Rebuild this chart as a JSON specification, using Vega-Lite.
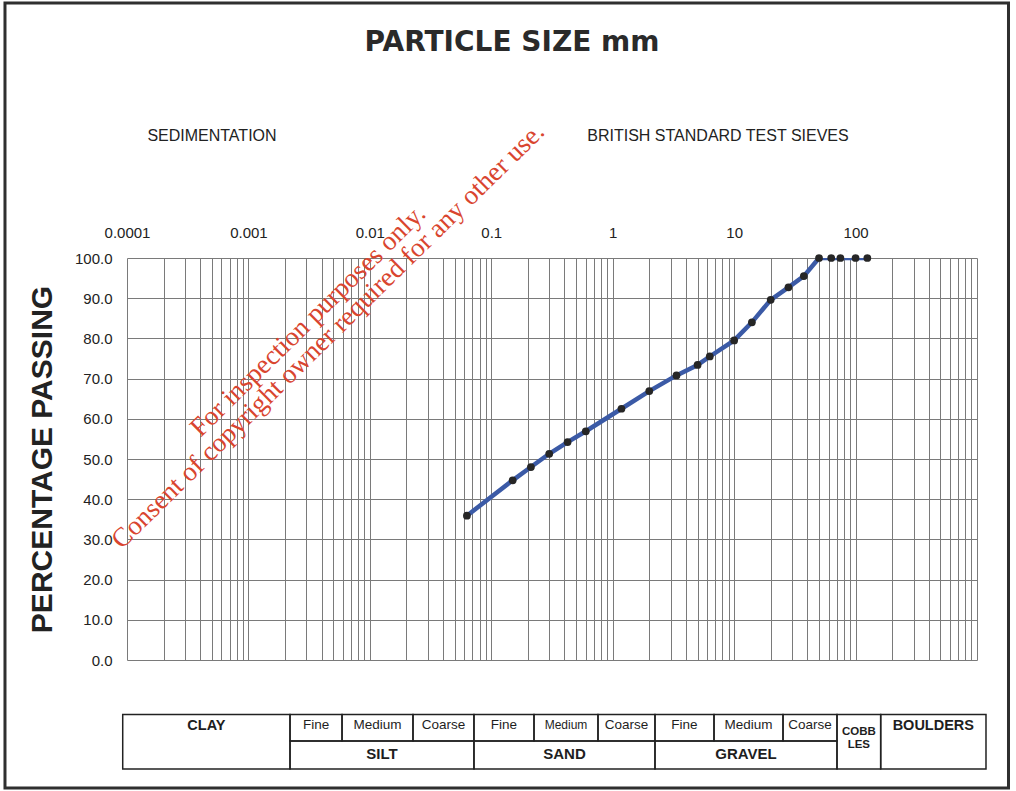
{
  "$schema": "https://vega.github.io/schema/vega-lite/v6.json",
  "width": 850,
  "height": 402,
  "autosize": {"type": "none"},
  "padding": {"left": 127, "top": 258, "right": 39, "bottom": 131},
  "background": "white",
  "title": {
    "text": "PARTICLE SIZE mm",
    "font": "DejaVu Sans",
    "fontSize": 28,
    "fontWeight": "bold",
    "color": "#2a2a2a",
    "anchor": "middle",
    "frame": "group",
    "dx": -40,
    "offset": -55
  },
  "config": {"view": {"stroke": null}, "font": "Liberation Sans"},
  "datasets": {
    "grading": [
      {"size_mm": 0.063, "passing": 35.9},
      {"size_mm": 0.15, "passing": 44.7},
      {"size_mm": 0.212, "passing": 48.0},
      {"size_mm": 0.3, "passing": 51.3},
      {"size_mm": 0.425, "passing": 54.2},
      {"size_mm": 0.6, "passing": 56.9},
      {"size_mm": 1.18, "passing": 62.5},
      {"size_mm": 2, "passing": 66.9},
      {"size_mm": 3.35, "passing": 70.8},
      {"size_mm": 5, "passing": 73.4},
      {"size_mm": 6.3, "passing": 75.5},
      {"size_mm": 10, "passing": 79.5},
      {"size_mm": 14, "passing": 84.0},
      {"size_mm": 20, "passing": 89.6},
      {"size_mm": 28, "passing": 92.7},
      {"size_mm": 37.5, "passing": 95.5},
      {"size_mm": 50, "passing": 100},
      {"size_mm": 63, "passing": 100},
      {"size_mm": 75, "passing": 100},
      {"size_mm": 100, "passing": 100},
      {"size_mm": 125, "passing": 100}
    ],
    "classes": [
      {"label": "CLAY", "group": "CLAY", "tier": "full", "from": 0.0000922, "to": 0.0022},
      {"label": "Fine", "group": "SILT", "tier": "top", "from": 0.0022, "to": 0.0059},
      {"label": "Medium", "group": "SILT", "tier": "top", "from": 0.0059, "to": 0.02266},
      {"label": "Coarse", "group": "SILT", "tier": "top", "from": 0.02266, "to": 0.072},
      {"label": "SILT", "group": "SILT", "tier": "bottom", "from": 0.0022, "to": 0.072},
      {"label": "Fine", "group": "SAND", "tier": "top", "from": 0.072, "to": 0.2248},
      {"label": "Medium", "group": "SAND", "tier": "top", "from": 0.2248, "to": 0.7563},
      {"label": "Coarse", "group": "SAND", "tier": "top", "from": 0.7563, "to": 2.229},
      {"label": "SAND", "group": "SAND", "tier": "bottom", "from": 0.072, "to": 2.229},
      {"label": "Fine", "group": "GRAVEL", "tier": "top", "from": 2.229, "to": 6.826},
      {"label": "Medium", "group": "GRAVEL", "tier": "top", "from": 6.826, "to": 25.26},
      {"label": "Coarse", "group": "GRAVEL", "tier": "top", "from": 25.26, "to": 70.31},
      {"label": "GRAVEL", "group": "GRAVEL", "tier": "bottom", "from": 2.229, "to": 70.31},
      {"label": "COBB\nLES", "group": "COBBLES", "tier": "full", "from": 70.31, "to": 161},
      {"label": "BOULDERS", "group": "BOULDERS", "tier": "full", "from": 161, "to": 1186}
    ]
  },
  "layer": [
    {
      "data": {"name": "grading"},
      "mark": {"type": "line", "color": "#3b5aa6", "strokeWidth": 4.5, "clip": true},
      "encoding": {
        "x": {
          "field": "size_mm",
          "type": "quantitative",
          "scale": {"type": "log", "domain": [0.0001, 1000], "nice": false},
          "axis": {
            "orient": "top",
            "title": null,
            "values": [0.0001, 0.0002, 0.0003, 0.0004, 0.0005, 0.0006, 0.0007, 0.0008, 0.0009,
                       0.001, 0.002, 0.003, 0.004, 0.005, 0.006, 0.007, 0.008, 0.009,
                       0.01, 0.02, 0.03, 0.04, 0.05, 0.06, 0.07, 0.08, 0.09,
                       0.1, 0.2, 0.3, 0.4, 0.5, 0.6, 0.7, 0.8, 0.9,
                       1, 2, 3, 4, 5, 6, 7, 8, 9,
                       10, 20, 30, 40, 50, 60, 70, 80, 90,
                       100, 200, 300, 400, 500, 600, 700, 800, 900, 1000],
            "format": "~g",
            "labelExpr": "indexof([0.0001, 0.001, 0.01, 0.1, 1, 10, 100], datum.value) >= 0 ? datum.label : ''",
            "grid": true,
            "gridColor": "#7a7a7a",
            "gridWidth": 1,
            "ticks": false,
            "domain": false,
            "labelPadding": 18,
            "labelFontSize": 15,
            "labelColor": "#222222",
            "labelFlush": false,
            "labelOverlap": false
          }
        },
        "y": {
          "field": "passing",
          "type": "quantitative",
          "scale": {"domain": [0, 100], "nice": false, "zero": false},
          "axis": {
            "title": "PERCENTAGE PASSING",
            "titleFontSize": 30,
            "titleFontWeight": "bold",
            "titleColor": "#222222",
            "titlePadding": 17,
            "values": [0, 5, 10, 15, 20, 25, 30, 35, 40, 45, 50, 55, 60, 65, 70, 75, 80, 85, 90, 95, 100],
            "labelExpr": "datum.value % 10 === 0 ? format(datum.value, '.1f') : ''",
            "grid": true,
            "gridColor": "#7a7a7a",
            "gridWidth": 1,
            "ticks": false,
            "domain": false,
            "labelPadding": 15,
            "labelFontSize": 15,
            "labelColor": "#222222",
            "labelOverlap": false,
            "labelFlush": false
          }
        }
      }
    },
    {
      "data": {"name": "grading"},
      "mark": {"type": "point", "filled": true, "color": "#262626", "size": 60, "opacity": 1},
      "encoding": {
        "x": {"field": "size_mm", "type": "quantitative"},
        "y": {"field": "passing", "type": "quantitative"}
      }
    },
    {
      "data": {"values": [{}]},
      "mark": {"type": "rect", "fill": "white", "fillOpacity": 0, "stroke": "#2f2f2f", "strokeWidth": 3},
      "encoding": {
        "x": {"datum": 0.00000989, "type": "quantitative"},
        "x2": {"datum": 1817},
        "y": {"datum": 163.43, "type": "quantitative"},
        "y2": {"datum": -31.84}
      }
    },
    {
      "data": {"name": "classes"},
      "transform": [{"filter": "datum.tier === 'top'"}],
      "mark": {"type": "rect", "fillOpacity": 0, "fill": "white", "stroke": "#222222", "strokeWidth": 1.5},
      "encoding": {
        "x": {"field": "from", "type": "quantitative"},
        "x2": {"field": "to"},
        "y": {"datum": -13.56, "type": "quantitative"},
        "y2": {"datum": -20.15}
      }
    },
    {
      "data": {"name": "classes"},
      "transform": [{"filter": "datum.tier === 'bottom'"}],
      "mark": {"type": "rect", "fillOpacity": 0, "fill": "white", "stroke": "#222222", "strokeWidth": 1.5},
      "encoding": {
        "x": {"field": "from", "type": "quantitative"},
        "x2": {"field": "to"},
        "y": {"datum": -20.15, "type": "quantitative"},
        "y2": {"datum": -27.11}
      }
    },
    {
      "data": {"name": "classes"},
      "transform": [{"filter": "datum.tier === 'full'"}],
      "mark": {"type": "rect", "fillOpacity": 0, "fill": "white", "stroke": "#222222", "strokeWidth": 1.5},
      "encoding": {
        "x": {"field": "from", "type": "quantitative"},
        "x2": {"field": "to"},
        "y": {"datum": -13.56, "type": "quantitative"},
        "y2": {"datum": -27.11}
      }
    },
    {
      "data": {"name": "classes"},
      "transform": [
        {"filter": "datum.tier === 'top'"},
        {"calculate": "sqrt(datum.from * datum.to)", "as": "mid"}
      ],
      "mark": {"type": "text", "baseline": "middle", "align": "center", "color": "#1e1e1e"},
      "encoding": {
        "x": {"field": "mid", "type": "quantitative"},
        "y": {"datum": -16.17, "type": "quantitative"},
        "text": {"field": "label"},
        "size": {"condition": {"test": "datum.group === 'SAND' && datum.label === 'Medium'", "value": 12}, "value": 13.5}
      }
    },
    {
      "data": {"name": "classes"},
      "transform": [
        {"filter": "datum.tier === 'bottom'"},
        {"calculate": "sqrt(datum.from * datum.to)", "as": "mid"}
      ],
      "mark": {"type": "text", "baseline": "middle", "align": "center", "color": "#1e1e1e", "fontWeight": "bold", "fontSize": 15},
      "encoding": {
        "x": {"field": "mid", "type": "quantitative"},
        "y": {"datum": -23.26, "type": "quantitative"},
        "text": {"field": "label"}
      }
    },
    {
      "data": {"name": "classes"},
      "transform": [
        {"filter": "datum.tier === 'full' && datum.group !== 'COBBLES'"},
        {"calculate": "sqrt(datum.from * datum.to)", "as": "mid"}
      ],
      "mark": {"type": "text", "baseline": "middle", "align": "center", "color": "#1e1e1e", "fontWeight": "bold", "fontSize": 14.5},
      "encoding": {
        "x": {"field": "mid", "type": "quantitative"},
        "y": {"datum": -16.42, "type": "quantitative"},
        "text": {"field": "label"}
      }
    },
    {
      "data": {"name": "classes"},
      "transform": [
        {"filter": "datum.group === 'COBBLES'"},
        {"calculate": "sqrt(datum.from * datum.to)", "as": "mid"}
      ],
      "mark": {"type": "text", "baseline": "middle", "align": "center", "color": "#1e1e1e", "fontWeight": "bold", "fontSize": 11.5, "lineBreak": "\n", "lineHeight": 13},
      "encoding": {
        "x": {"field": "mid", "type": "quantitative"},
        "y": {"datum": -17.79, "type": "quantitative"},
        "text": {"field": "label"}
      }
    },
    {
      "data": {"values": [{}]},
      "mark": {"type": "text", "text": "SEDIMENTATION", "baseline": "middle", "align": "center", "fontSize": 16, "color": "#222222"},
      "encoding": {
        "x": {"datum": 0.000501, "type": "quantitative"},
        "y": {"datum": 130.35, "type": "quantitative"}
      }
    },
    {
      "data": {"values": [{}]},
      "mark": {"type": "text", "text": "BRITISH STANDARD TEST SIEVES", "baseline": "middle", "align": "center", "fontSize": 16, "color": "#222222"},
      "encoding": {
        "x": {"datum": 7.36, "type": "quantitative"},
        "y": {"datum": 130.35, "type": "quantitative"}
      }
    },
    {
      "data": {"values": [{}]},
      "mark": {"type": "text", "text": "For inspection purposes only.", "font": "Liberation Serif", "baseline": "alphabetic", "align": "center", "fontSize": 27, "angle": -44.5, "color": "#d9452f"},
      "encoding": {
        "x": {"datum": 0.00345, "type": "quantitative"},
        "y": {"datum": 82.9, "type": "quantitative"}
      }
    },
    {
      "data": {"values": [{}]},
      "mark": {"type": "text", "text": "Consent of copyright owner required for any other use.", "font": "Liberation Serif", "baseline": "alphabetic", "align": "center", "fontSize": 27, "angle": -44.5, "color": "#d9452f"},
      "encoding": {
        "x": {"datum": 0.00505, "type": "quantitative"},
        "y": {"datum": 79.2, "type": "quantitative"}
      }
    }
  ]
}
